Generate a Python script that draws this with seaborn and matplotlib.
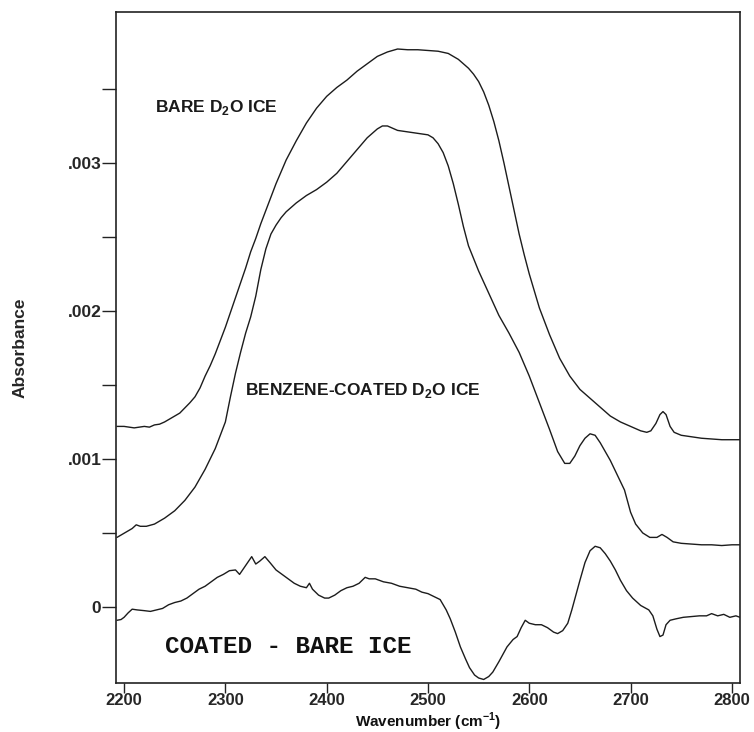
import numpy as np
import pandas as pd
import matplotlib
matplotlib.use("Agg")
import matplotlib.pyplot as plt
import seaborn as sns
from matplotlib.ticker import FixedLocator, FuncFormatter

# Infrared spectra of D2O ice in the O-D stretch region (absorbance in units of 1e-3)
bare_wn = [2193, 2200, 2205, 2210, 2215, 2220, 2225, 2230, 2235, 2240, 2245, 2250,
           2255, 2260, 2265, 2270, 2275, 2280, 2285, 2290, 2295, 2300, 2305, 2310,
           2315, 2320, 2325, 2330, 2335, 2340, 2345, 2350, 2355, 2360, 2370, 2380,
           2390, 2400, 2410, 2420, 2430, 2440, 2450, 2460, 2470, 2480, 2490, 2500,
           2510, 2520, 2530, 2540, 2545, 2550, 2555, 2560, 2565, 2570, 2575, 2580,
           2585, 2590, 2595, 2600, 2610, 2620, 2630, 2640, 2650, 2660, 2670, 2680,
           2690, 2700, 2710, 2716, 2720, 2725, 2729, 2732, 2735, 2739, 2743, 2750,
           2760, 2770, 2780, 2790, 2800, 2808]
bare_abs = [1.22, 1.22, 1.215, 1.21, 1.215, 1.22, 1.215, 1.23, 1.235, 1.25, 1.27, 1.29,
            1.31, 1.345, 1.38, 1.42, 1.48, 1.56, 1.63, 1.71, 1.80, 1.89, 1.99, 2.09,
            2.19, 2.29, 2.40, 2.49, 2.59, 2.68, 2.77, 2.86, 2.94, 3.02, 3.15, 3.27,
            3.37, 3.45, 3.51, 3.56, 3.62, 3.67, 3.72, 3.75, 3.77, 3.765, 3.765, 3.76,
            3.755, 3.74, 3.70, 3.64, 3.60, 3.55, 3.48, 3.39, 3.28, 3.15, 3.00, 2.84,
            2.68, 2.52, 2.38, 2.25, 2.02, 1.84, 1.68, 1.56, 1.47, 1.41, 1.35, 1.29,
            1.25, 1.22, 1.19, 1.18, 1.19, 1.24, 1.30, 1.32, 1.30, 1.22, 1.18, 1.16,
            1.15, 1.14, 1.135, 1.13, 1.13, 1.13]

coated_wn = [2193, 2198, 2203, 2208, 2212, 2216, 2222, 2230, 2240, 2250, 2260, 2270,
             2280, 2290, 2300, 2305, 2310, 2315, 2320, 2325, 2330, 2335, 2340, 2345,
             2350, 2355, 2360, 2370, 2380, 2390, 2400, 2410, 2420, 2430, 2440, 2450,
             2455, 2460, 2470, 2480, 2490, 2500, 2505, 2510, 2515, 2520, 2525, 2530,
             2535, 2540, 2550, 2560, 2570, 2580, 2590, 2600, 2610, 2620, 2628, 2635,
             2640, 2645, 2650, 2655, 2660, 2665, 2670, 2675, 2680, 2687, 2694, 2700,
             2705, 2712, 2719, 2726, 2731, 2736, 2742, 2750, 2760, 2770, 2780, 2790,
             2800, 2808]
coated_abs = [0.47, 0.49, 0.51, 0.53, 0.555, 0.545, 0.545, 0.56, 0.60, 0.65, 0.72, 0.81,
              0.93, 1.07, 1.25, 1.42, 1.58, 1.72, 1.85, 1.96, 2.10, 2.28, 2.42, 2.52,
              2.58, 2.63, 2.67, 2.73, 2.78, 2.82, 2.87, 2.93, 3.01, 3.09, 3.17, 3.23,
              3.25, 3.25, 3.22, 3.21, 3.20, 3.19, 3.17, 3.13, 3.07, 2.98, 2.86, 2.72,
              2.57, 2.44, 2.27, 2.12, 1.97, 1.85, 1.72, 1.56, 1.38, 1.20, 1.05, 0.97,
              0.97, 1.02, 1.09, 1.14, 1.17, 1.16, 1.11, 1.05, 0.99, 0.89, 0.79, 0.64,
              0.56, 0.50, 0.47, 0.47, 0.49, 0.47, 0.44, 0.43, 0.425, 0.42, 0.42, 0.415,
              0.42, 0.42]

diff_wn = [2193, 2197, 2200, 2204, 2208, 2213, 2220, 2226, 2232, 2238, 2244, 2250,
           2256, 2262, 2268, 2274, 2280, 2286, 2292, 2298, 2304, 2310, 2314, 2318,
           2322, 2326, 2330, 2334, 2339, 2344, 2350, 2356, 2362, 2368, 2374, 2380,
           2383, 2386, 2392, 2398, 2402, 2408, 2414, 2420, 2426, 2432, 2438, 2442,
           2448, 2456, 2464, 2472, 2480, 2488, 2494, 2500, 2506, 2512, 2518, 2522,
           2527, 2532, 2537, 2541, 2546, 2550, 2555, 2560, 2564, 2570, 2578, 2584,
           2588, 2592, 2596, 2600, 2606, 2612, 2618, 2624, 2628, 2633, 2638, 2642,
           2646, 2650, 2655, 2660, 2665, 2670, 2675, 2680, 2685, 2690, 2696, 2702,
           2710, 2718, 2722, 2726, 2729, 2732, 2735, 2739, 2745, 2752, 2760, 2768,
           2775, 2780, 2786, 2792, 2798, 2804, 2808]
diff_abs = [-0.09, -0.085, -0.07, -0.04, -0.015, -0.02, -0.025, -0.03, -0.02, -0.01, 0.015, 0.03,
            0.04, 0.06, 0.09, 0.12, 0.14, 0.17, 0.20, 0.22, 0.245, 0.25, 0.22, 0.26,
            0.30, 0.34, 0.29, 0.31, 0.34, 0.30, 0.25, 0.22, 0.19, 0.16, 0.14, 0.13,
            0.16, 0.12, 0.08, 0.06, 0.06, 0.08, 0.11, 0.13, 0.14, 0.16, 0.20, 0.19,
            0.19, 0.17, 0.16, 0.14, 0.13, 0.12, 0.10, 0.09, 0.07, 0.05, -0.02, -0.08,
            -0.17, -0.27, -0.35, -0.41, -0.46, -0.48, -0.49, -0.47, -0.44, -0.37, -0.27, -0.22,
            -0.20, -0.14, -0.09, -0.11, -0.12, -0.12, -0.14, -0.17, -0.18, -0.16, -0.11, -0.02,
            0.08, 0.18, 0.30, 0.38, 0.41, 0.40, 0.36, 0.31, 0.25, 0.18, 0.11, 0.06,
            0.01, -0.02, -0.06, -0.15, -0.20, -0.19, -0.12, -0.09, -0.08, -0.07, -0.065, -0.06,
            -0.06, -0.045, -0.06, -0.05, -0.07, -0.06, -0.07]

x_ticks = [2200, 2300, 2400, 2500, 2600, 2700, 2800]
y_major = [0.0, 0.001, 0.002, 0.003]
y_major_labels = ["0", ".001", ".002", ".003"]
y_minor = [0.0005, 0.0015, 0.0025, 0.0035]

MILLI = 1e-3
frames = []
for name, wn, ab in [("bare", bare_wn, bare_abs),
                     ("coated", coated_wn, coated_abs),
                     ("diff", diff_wn, diff_abs)]:
    frames.append(pd.DataFrame({"wavenumber": wn,
                                "absorbance": np.asarray(ab) * MILLI,
                                "spectrum": name}))
spectra = pd.concat(frames, ignore_index=True)

sns.set_theme(style="white")
plt.rcParams["font.family"] = ["Liberation Sans", "DejaVu Sans"]
plt.rcParams["mathtext.fontset"] = "custom"
plt.rcParams["mathtext.rm"] = "Liberation Sans"
plt.rcParams["mathtext.bf"] = "Liberation Sans:bold"

fig = plt.figure(figsize=(7.54, 7.32), dpi=100)
ax = fig.add_axes([0.1538, 0.0669, 0.9814 - 0.1538, 0.9836 - 0.0669])

for name in ["bare", "coated", "diff"]:
    sns.lineplot(data=spectra[spectra["spectrum"] == name], x="wavenumber", y="absorbance",
                 ax=ax, color="#1c1c1c", linewidth=1.0, estimator=None, sort=False)

ax.set_xlim(2192, 2808)
ax.set_ylim(-0.000514, 0.00402)

ax.set_xticks(x_ticks)
ax.set_xticklabels([str(t) for t in x_ticks])
ax.yaxis.set_major_locator(FixedLocator(y_major))
ax.yaxis.set_major_formatter(FuncFormatter(lambda v, p: y_major_labels[y_major.index(round(v, 4))]
                                           if round(v, 4) in y_major else ""))
ax.yaxis.set_minor_locator(FixedLocator(y_minor))

ax.tick_params(axis="both", which="both", direction="out", color="#222222", width=1.0)
ax.tick_params(axis="x", which="major", length=7, bottom=True, pad=0.5,
               labelsize=12)
ax.tick_params(axis="y", which="both", length=10, left=True, pad=0.5, labelsize=12.5)
for lab in ax.get_xticklabels() + ax.get_yticklabels():
    lab.set_fontweight("bold")

for side in ["left", "right", "top", "bottom"]:
    ax.spines[side].set_visible(True)
    ax.spines[side].set_color("#222222")
    ax.spines[side].set_linewidth(1.2)

ax.set_xlabel("")
ax.set_ylabel("Absorbance", fontsize=12.5, fontweight="bold", labelpad=29)

# x-axis title placed by baseline so it sits just under the tick labels
fig.text(0.5676, 1 - 727 / 732, "Wavenumber (cm$^{\\mathbf{-1}}$)", fontsize=11,
         fontweight="bold", ha="center", va="baseline", color="#111111")

ax.text(2230.6, 0.003345, "BARE D$_\\mathbf{2}$O ICE", fontsize=12.5, fontweight="bold",
        va="baseline", ha="left", color="#1a1a1a")
ax.text(2319.4, 0.001432, "BENZENE-COATED D$_\\mathbf{2}$O ICE", fontsize=12.5,
        fontweight="bold", va="baseline", ha="left", color="#1a1a1a")
ax.text(2240.5, -0.000311, "COATED - BARE ICE", fontsize=17.5, fontweight="bold",
        family=["Liberation Mono", "DejaVu Sans Mono"], va="baseline", ha="left",
        color="#111111")

fig.savefig("out.png", dpi=100, facecolor="white")
